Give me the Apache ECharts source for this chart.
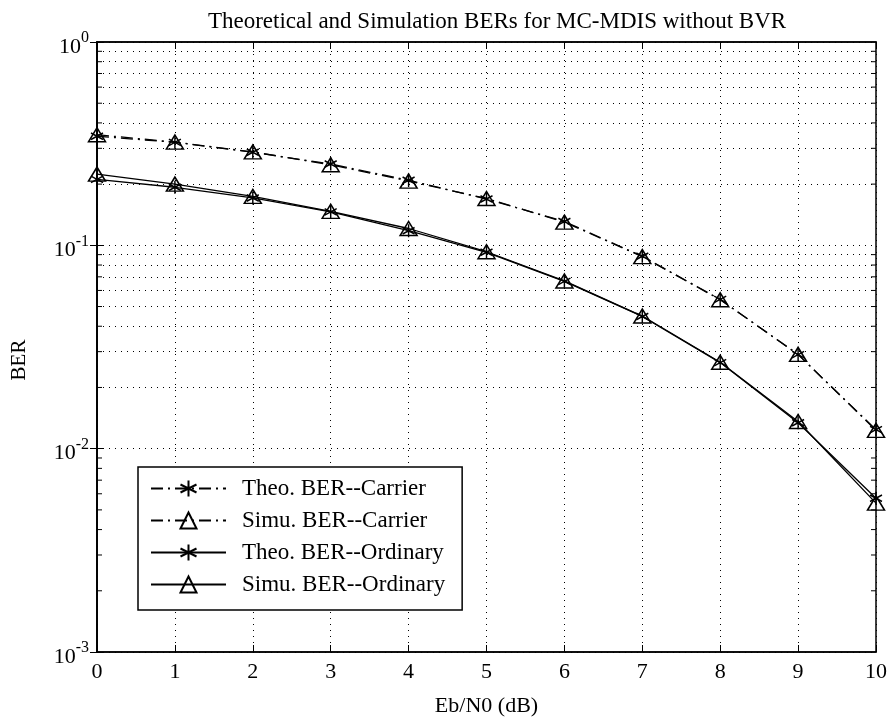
<!DOCTYPE html>
<html><head><meta charset="utf-8">
<script src="https://cdn.jsdelivr.net/npm/echarts@6/dist/echarts.min.js"></script>
<style>html,body{margin:0;padding:0;background:#fff}#c{width:889px;height:721px}</style>
</head><body><div id="c"></div>
<script>
var ebn0 = [0,1,2,3,4,5,6,7,8,9,10];
var theoCarrier = [0.344,0.321,0.287,0.251,0.209,0.169,0.131,0.0883,0.0542,0.0290,0.0124];
var simuCarrier = [0.350,0.322,0.288,0.249,0.207,0.170,0.130,0.0880,0.0540,0.0291,0.0123];
var theoOrdinary = [0.211,0.193,0.171,0.146,0.118,0.0924,0.0665,0.0447,0.0265,0.0134,0.0057];
var simuOrdinary = [0.224,0.200,0.174,0.147,0.121,0.0930,0.0668,0.0449,0.0266,0.0136,0.0054];
var minorGrid = [];
[0.001,0.01,0.1].forEach(function(d){for(var k=2;k<=9;k++)minorGrid.push(+(d*k).toPrecision(3));});
var names = ['Theo. BER--Carrier','Simu. BER--Carrier','Theo. BER--Ordinary','Simu. BER--Ordinary'];

var serif = '"Liberation Serif","DejaVu Serif",serif';
var star = 'path://M0,-10L0,10M-8.66,-5L8.66,5M-8.66,5L8.66,-5';
var dashDot = [12,5,2,5];
function pairs(arr){return ebn0.map(function(x,i){return [x,arr[i]];});}
function mk(name, arr, sym, dash, size){
  return {
    name:name, type:'line', data:pairs(arr), symbol:sym, symbolSize:size,
    showAllSymbol:true,
    lineStyle:{color:'#000', width:1.3, type:dash},
    itemStyle:{color: 'rgba(255,255,255,0)', borderColor:'#000', borderWidth:1.5},
    emphasis:{disabled:true}, z:5
  };
}
var series = [
  mk(names[0], theoCarrier, star, dashDot, [12,13]),
  mk(names[1], simuCarrier, 'triangle', dashDot, [17,14]),
  mk(names[2], theoOrdinary, star, 'solid', [12,13]),
  mk(names[3], simuOrdinary, 'triangle', 'solid', [17,14])
];
series[0].markLine = {
  silent:true, symbol:['none','none'], label:{show:false},
  lineStyle:{color:'#000', width:1, type:[1,5]},
  data: minorGrid.map(function(v){return {yAxis:v};}),
  animation:false
};
series.push({
  type:'custom', silent:true, z:3,
  data: minorGrid.map(function(v){return [0, v];}),
  renderItem:function(params, api){
    var v = api.value(1);
    var a = api.coord([0, v]), b = api.coord([10, v]);
    return {type:'group', children:[
      {type:'line', shape:{x1:a[0], y1:a[1], x2:a[0]+5, y2:a[1]}, style:{stroke:'#000', lineWidth:1}},
      {type:'line', shape:{x1:b[0]-5, y1:b[1], x2:b[0], y2:b[1]}, style:{stroke:'#000', lineWidth:1}}
    ]};
  }
});
var chart = echarts.init(document.getElementById('c'));
var ylab = {
  fontFamily:serif, fontSize:22, color:'#000', margin:8, padding:[10,0,0,0],
  formatter:function(v){var e=Math.round(Math.log10(v));return '10{s|'+e+'}';},
  rich:{s:{fontSize:16, fontFamily:serif, color:'#000', padding:[0,0,18,0]}}
};
chart.setOption({
  animation:false,
  backgroundColor:'#fff',
  title:{text:'Theoretical and Simulation BERs for MC-MDIS without BVR', left:492, top:5, textAlign:'center',
    textStyle:{fontFamily:serif, fontSize:23, fontWeight:'normal', color:'#000'}},
  grid:{left:97, right:13, top:42, bottom:69, show:true, borderColor:'#000', borderWidth:1.5,
    backgroundColor:'transparent', containLabel:false, outerBoundsMode:'none'},
  legend:{
    data:names, orient:'vertical', left:138, top:467,
    backgroundColor:'#fff', borderColor:'#000', borderWidth:1.5, padding:[10,17,14,12],
    itemWidth:75, itemHeight:20, itemGap:9,
    textStyle:{fontFamily:serif, fontSize:23, color:'#000', padding:[0,10,0,11]}
  },
  xAxis:[{
    type:'value', min:0, max:10, interval:1,
    name:'Eb/N0 (dB)', nameLocation:'middle', nameGap:43,
    nameTextStyle:{fontFamily:serif, fontSize:22, color:'#000'},
    axisLine:{lineStyle:{color:'#000', width:1.5}},
    axisTick:{inside:true, length:7, lineStyle:{color:'#000'}},
    axisLabel:{fontFamily:serif, fontSize:22, color:'#000', margin:9},
    splitLine:{show:true, lineStyle:{color:'#000', type:[1,5], width:1}}
  },{
    type:'value', min:0, max:10, interval:1, position:'top',
    axisLine:{show:true, lineStyle:{color:'#000', width:1.5}},
    axisTick:{inside:true, length:7, lineStyle:{color:'#000'}},
    axisLabel:{show:false}, splitLine:{show:false}
  }],
  yAxis:[{
    type:'log', logBase:10, min:0.001, max:1,
    name:'BER', nameLocation:'middle', nameGap:67,
    nameTextStyle:{fontFamily:serif, fontSize:21, color:'#000', padding:[0,26,0,0]},
    axisLine:{show:true, lineStyle:{color:'#000', width:1.5}},
    axisTick:{inside:true, length:7, lineStyle:{color:'#000'}},
    axisLabel:ylab,
    splitLine:{show:true, lineStyle:{color:'#000', type:[1,5], width:1}}
  },{
    type:'log', logBase:10, min:0.001, max:1, position:'right',
    axisLine:{show:true, lineStyle:{color:'#000', width:1.5}},
    axisTick:{inside:true, length:7, lineStyle:{color:'#000'}},
    axisLabel:{show:false}, splitLine:{show:false}
  }],
  series:series
});
</script></body></html>
